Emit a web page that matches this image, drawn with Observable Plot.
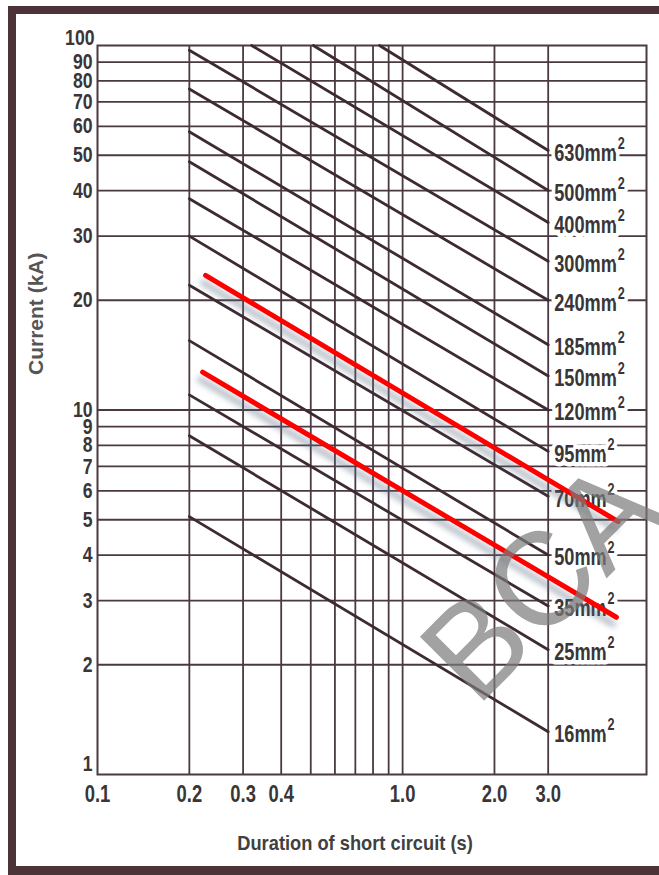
<!DOCTYPE html>
<html><head><meta charset="utf-8">
<script src="https://cdn.jsdelivr.net/npm/d3@7"></script>
<script src="https://cdn.jsdelivr.net/npm/@observablehq/plot@0.6"></script>
<style>
html,body{margin:0;padding:0;background:#fff;}
#wrap{position:relative;width:659px;height:875px;overflow:hidden;background:#fff;}
#chart{position:absolute;left:0;top:0;}
#frame{position:absolute;left:8px;top:6px;width:720px;height:869px;border:8px solid #4b3338;border-bottom-width:9px;box-sizing:border-box;pointer-events:none;}
</style></head>
<body>
<div id="wrap"><div id="chart"></div><div id="frame"></div></div>
<script>
// Cable cross-sections (mm²) and their straight lines (log-log)
const sizes = ["630", "500", "400", "300", "240", "185", "150", "120", "95", "70", "50", "35", "25", "16"];
const startT = [0.84, 0.51, 0.32, 0.2, 0.2, 0.2, 0.2, 0.2, 0.2, 0.2, 0.2, 0.2, 0.2, 0.2];
const startI = [100, 100, 100, 97, 76, 58, 48, 38, 30, 22, 15.5, 11, 8.5, 5.1];
const endT   = [3.0, 3.0, 3.0, 3.0, 3.0, 3.0, 3.0, 3.0, 3.0, 3.0, 3.0, 3.0, 3.0, 3.0];
const endI   = [51.5, 40, 32.7, 25.6, 20, 15.1, 12.4, 10, 7.7, 5.8, 4.0, 2.9, 2.2, 1.31];

// Red overlay lines
const redStartT = [0.226, 0.221];
const redStartI = [23.4, 12.7];
const redEndT   = [5.09, 5.02];
const redEndI   = [4.94, 2.70];

// Grid and tick values
const xGrid = [0.2, 0.3, 0.4, 0.5, 0.6, 0.7, 0.8, 0.9, 1.0, 2.0, 3.0];
const yGrid = [2, 3, 4, 5, 6, 7, 8, 9, 10, 20, 30, 40, 50, 60, 70, 80, 90];
const xTicks = [0.1, 0.2, 0.3, 0.4, 0.6, 0.8, 1.0, 2.0, 3.0];
const yTicksMid = [2, 3, 4, 5, 6, 7, 8, 9, 10, 20, 30, 40, 50, 60, 70, 80, 90];
const yTickTop = [100];
const yTickBottom = [1];
const xLabel = "Duration of short circuit (s)";
const yLabel = "Current (kA)";
const watermark = "BCA";

const cableRows = sizes.flatMap((s, i) => [
  {size: s, t: startT[i], I: startI[i]},
  {size: s, t: endT[i], I: endI[i]}
]);
const labelRows = sizes.map((s, i) => ({size: s, t: endT[i], I: endI[i]}));
const redRows = redStartT.flatMap((t, i) => [
  {id: i, t: t, I: redStartI[i]},
  {id: i, t: redEndT[i], I: redEndI[i]}
]);

const ink = "#3d2b31";
const gridInk = "#4a3942";
const textInk = "#3a3536";
const sans = "'Liberation Sans', Arial, sans-serif";

const svg = Plot.plot({
  width: 659,
  height: 875,
  marginLeft: 97,
  marginRight: 13,
  marginTop: 45,
  marginBottom: 101,
  style: {fontFamily: sans, background: "transparent", overflow: "visible"},
  x: {type: "log", domain: [0.1, 6.3]},
  y: {type: "log", domain: [1, 100]},
  marks: [
    Plot.ruleX(xGrid, {stroke: gridInk, strokeWidth: 1.8}),
    Plot.ruleY(yGrid, {stroke: gridInk, strokeWidth: 1.8}),
    Plot.frame({stroke: gridInk, strokeWidth: 2}),
    Plot.line(cableRows, {x: "t", y: "I", z: "size", stroke: ink, strokeWidth: 2.8}),
    Plot.text(labelRows, {
      x: "t", y: "I", text: d => d.size + "mm",
      dx: 6, dy: 3, textAnchor: "start",
      fill: textInk, stroke: "white", strokeWidth: 9, paintOrder: "stroke",
      fontSize: 23, fontWeight: "bold"
    }),
    Plot.axisX(xTicks, {
      tickSize: 0, tickPadding: 11, fontSize: 23, fontWeight: "bold", fill: textInk,
      tickFormat: d => d.toFixed(1), label: null
    }),
    Plot.axisY(yTicksMid, {
      tickSize: 0, tickPadding: 5, fontSize: 22, fontWeight: "bold", fill: textInk,
      tickFormat: d => String(d), label: null
    }),
    Plot.axisY(yTickTop, {
      tickSize: 0, tickPadding: 3, fontSize: 22, fontWeight: "bold", fill: textInk, dy: -8,
      tickFormat: d => String(d), label: null
    }),
    Plot.axisY(yTickBottom, {
      tickSize: 0, tickPadding: 5, fontSize: 22, fontWeight: "bold", fill: textInk, dy: -11,
      tickFormat: d => String(d), label: null
    }),
    Plot.text([xLabel], {
      frameAnchor: "bottom", dx: -17, dy: 69, lineAnchor: "middle",
      fontSize: 21, fontWeight: "bold", fill: "#404040"
    }),
    Plot.text([yLabel], {
      frameAnchor: "left", dx: -61, dy: -35, rotate: -90, lineAnchor: "middle",
      fontSize: 21, fontWeight: "bold", fill: "#555"
    }),
    Plot.line(redRows, {x: "t", y: "I", z: "id", stroke: "#ff0000", strokeWidth: 5}),
    Plot.text([watermark], {
      frameAnchor: "bottom-right", dx: -170, dy: -66, rotate: -45,
      textAnchor: "start", lineAnchor: "bottom",
      fontSize: 132, fill: "#7a7a7a", fillOpacity: 0.7
    })
  ]
});

// superscript "2" after mm
d3.select(svg).selectAll("text").filter(function() { return /mm$/.test(this.textContent); })
  .each(function() {
    d3.select(this).append("tspan").attr("dx", 1).attr("dy", -12).attr("font-size", 16).text("2");
  });
// soft shadow under the red lines
d3.select(svg).selectAll('g[stroke="#ff0000"]').style("filter", "drop-shadow(-3px 7px 3px rgba(90,105,130,0.55))");

document.getElementById("chart").appendChild(svg);

// condensed look: squeeze glyphs horizontally
function squeeze(node, f) {
  const L = node.getComputedTextLength();
  node.setAttribute("textLength", (L * f).toFixed(1));
  node.setAttribute("lengthAdjust", "spacingAndGlyphs");
}
d3.select(svg).selectAll("text").each(function() {
  const s = this.textContent;
  if (s === watermark || s === yLabel) return;
  squeeze(this, s === xLabel ? 0.87 : 0.8);
});
</script>
</body></html>
